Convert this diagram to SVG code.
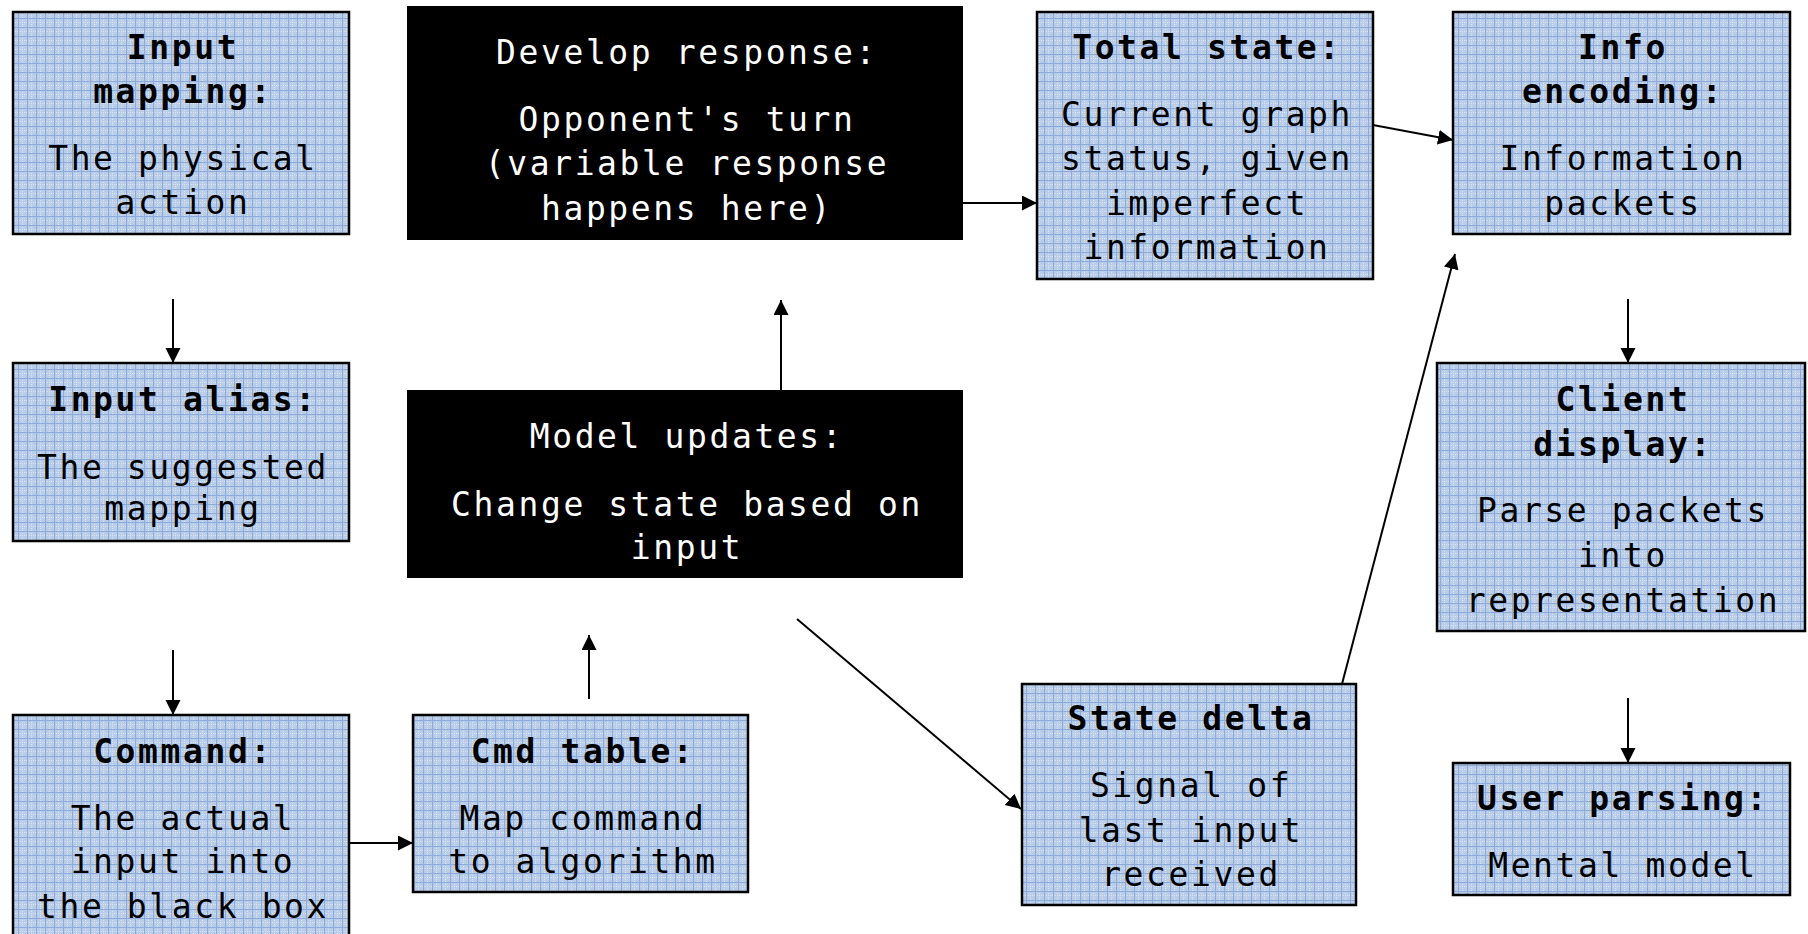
<svg xmlns="http://www.w3.org/2000/svg" width="1808" height="934" viewBox="0 0 1808 934">
<defs>
<pattern id="grid" width="9" height="9" patternUnits="userSpaceOnUse">
<rect width="9" height="9" fill="#b9cde8"/>
<path d="M0 4.5 H9 M4.5 0 V9" stroke="#d9e4f4" stroke-width="1" stroke-dasharray="1 1"/>
<path d="M0 0.5 H9 M0.5 0 V9" stroke="#8dabda" stroke-width="1"/>
</pattern>
<marker id="ah" markerUnits="userSpaceOnUse" markerWidth="16" markerHeight="16" refX="15" refY="7.5" orient="auto">
<path d="M0,0 L15,7.5 L0,15 z" fill="#000"/>
</marker>
</defs>
<style>
.bb{fill:url(#grid);stroke:#000;stroke-width:2.5}
.dk{fill:#000}
text{font-family:"DejaVu Sans Mono","Liberation Mono",monospace;font-size:33px;text-anchor:middle;letter-spacing:2.6px}
.t{font-weight:bold}
.w{fill:#fff}
.c line{stroke:#000;stroke-width:2;fill:none;marker-end:url(#ah)}
</style>
<rect width="1808" height="934" fill="#fff"/>
<g class="c" id="connectors">
<line x1="173" y1="299" x2="173" y2="363"/>
<line x1="173" y1="650" x2="173" y2="715"/>
<line x1="349" y1="843" x2="413" y2="843"/>
<line x1="589" y1="699" x2="589" y2="635"/>
<line x1="781" y1="390" x2="781" y2="300"/>
<line x1="963" y1="203" x2="1037" y2="203"/>
<line x1="797" y1="619" x2="1021" y2="809"/>
<line x1="1342" y1="684" x2="1455" y2="254"/>
<line x1="1373" y1="125" x2="1453" y2="140"/>
<line x1="1628" y1="299" x2="1628" y2="363"/>
<line x1="1628" y1="698" x2="1628" y2="763"/>
</g>
<g id="input-mapping">
<rect class="bb" x="13" y="12" width="336" height="222"/>
<text x="183" y="59" class="t">Input</text>
<text x="183" y="103" class="t">mapping:</text>
<text x="183" y="170">The physical</text>
<text x="183" y="214">action</text>
</g>
<g id="develop-response">
<rect class="dk" x="407" y="6" width="556" height="234"/>
<text x="687" y="64" class="w">Develop response:</text>
<text x="687" y="131" class="w">Opponent's turn</text>
<text x="687" y="175" class="w">(variable response</text>
<text x="687" y="220" class="w">happens here)</text>
</g>
<g id="total-state">
<rect class="bb" x="1037" y="12" width="336" height="267"/>
<text x="1207" y="59" class="t">Total state:</text>
<text x="1207" y="126">Current graph</text>
<text x="1207" y="170">status, given</text>
<text x="1207" y="215">imperfect</text>
<text x="1207" y="259">information</text>
</g>
<g id="info-encoding">
<rect class="bb" x="1453" y="12" width="337" height="222"/>
<text x="1623" y="59" class="t">Info</text>
<text x="1623" y="103" class="t">encoding:</text>
<text x="1623" y="170">Information</text>
<text x="1623" y="215">packets</text>
</g>
<g id="input-alias">
<rect class="bb" x="13" y="363" width="336" height="178"/>
<text x="183" y="411" class="t">Input alias:</text>
<text x="183" y="479">The suggested</text>
<text x="183" y="520">mapping</text>
</g>
<g id="model-updates">
<rect class="dk" x="407" y="390" width="556" height="188"/>
<text x="687" y="448" class="w">Model updates:</text>
<text x="687" y="516" class="w">Change state based on</text>
<text x="687" y="559" class="w">input</text>
</g>
<g id="client-display">
<rect class="bb" x="1437" y="363" width="368" height="268"/>
<text x="1623" y="411" class="t">Client</text>
<text x="1623" y="456" class="t">display:</text>
<text x="1623" y="522">Parse packets</text>
<text x="1623" y="567">into</text>
<text x="1623" y="612">representation</text>
</g>
<g id="command">
<rect class="bb" x="13" y="715" width="336" height="230"/>
<text x="183" y="763" class="t">Command:</text>
<text x="183" y="830">The actual</text>
<text x="183" y="873">input into</text>
<text x="183" y="918">the black box</text>
</g>
<g id="cmd-table">
<rect class="bb" x="413" y="715" width="335" height="177"/>
<text x="583" y="763" class="t">Cmd table:</text>
<text x="583" y="830">Map command</text>
<text x="583" y="873">to algorithm</text>
</g>
<g id="state-delta">
<rect class="bb" x="1022" y="684" width="334" height="221"/>
<text x="1191" y="730" class="t">State delta</text>
<text x="1191" y="797">Signal of</text>
<text x="1191" y="842">last input</text>
<text x="1191" y="886">received</text>
</g>
<g id="user-parsing">
<rect class="bb" x="1453" y="763" width="337" height="132"/>
<text x="1623" y="810" class="t">User parsing:</text>
<text x="1623" y="877">Mental model</text>
</g>
</svg>
